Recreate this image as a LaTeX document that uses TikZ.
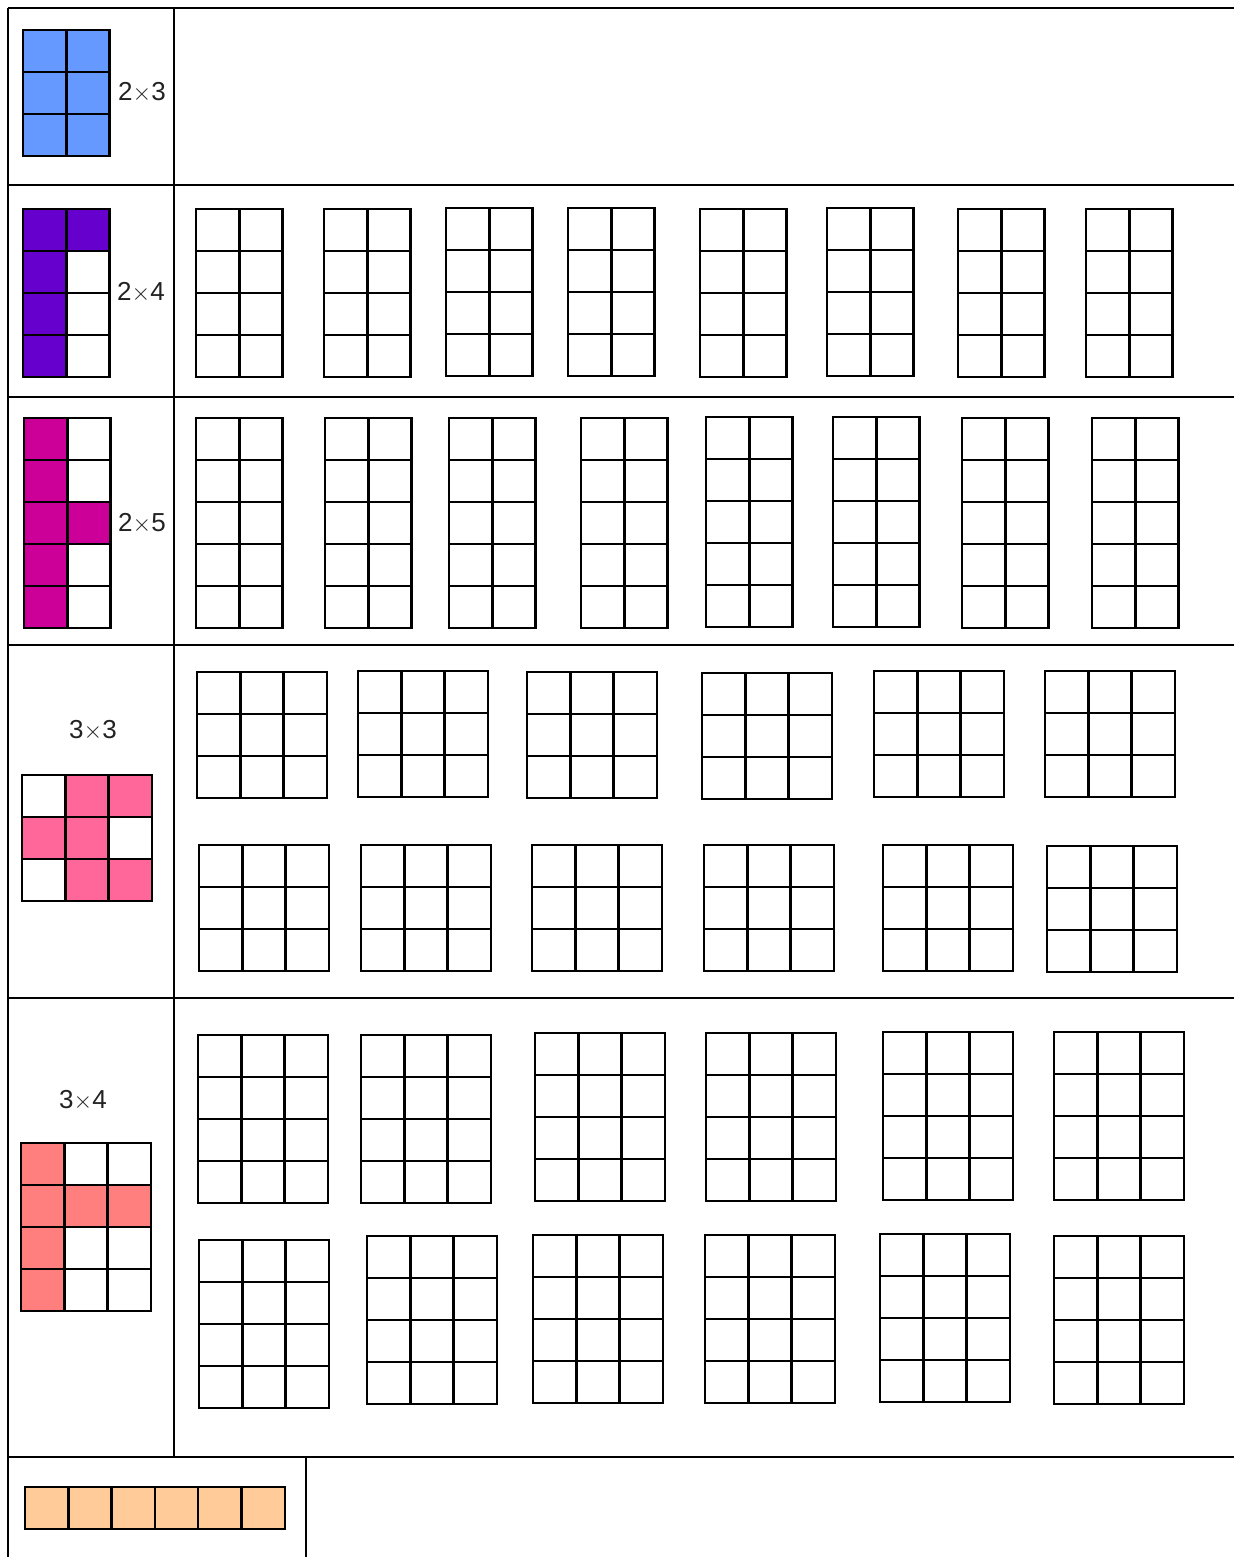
\documentclass[tikz,border=0pt]{standalone}
\usepackage{fontspec}
\setmainfont{Liberation Sans}
\definecolor{ink}{HTML}{222222}
\definecolor{tileblue}{HTML}{6699FF}
\definecolor{tilepurple}{HTML}{6600CC}
\definecolor{tilemagenta}{HTML}{CC0099}
\definecolor{tilepink}{HTML}{FF6699}
\definecolor{tilesalmon}{HTML}{FF7F7F}
\definecolor{tileorange}{HTML}{FFCC99}
\tikzset{
  rule/.style={draw=black, line width=0.8pt},
  cell/.style={draw=black, line width=1.25pt},
  dimlabel/.style={font=\fontsize{13}{15}\selectfont, text=ink, inner sep=0pt},
}
% left, top, columns, rows
\newcommand{\cellgrid}[4]{%
  \foreach \cx in {1,...,#3}
    \foreach \ry in {1,...,#4}
      \draw[cell] ({#1+(\cx-1)*43.3},{#2+(\ry-1)*42}) rectangle ++(43.3,42);
}
% left, top, colour, list of column/row
\newcommand{\celltint}[4]{%
  \foreach \cx/\ry in {#4}
    \fill[#3] ({#1+(\cx-1)*43.3},{#2+(\ry-1)*42}) rectangle ++(43.3,42);
}
\newcommand{\dims}[2]{#1$\times$#2}

\begin{document}
\begin{tikzpicture}[x=0.5pt, y=-0.5pt]
  \useasboundingbox (0,0) rectangle (1234,1557);

  % table rules
  \foreach \ty in {8,185,397,645,998,1457}
    \draw[rule] (8,\ty) -- (1234,\ty);
  \draw[rule] (8,8) -- (8,1557);
  \draw[rule] (174,8) -- (174,1457);
  \draw[rule] (306,1457) -- (306,1557);

  % coloured shapes
  \celltint{23}{30}{tileblue}{1/1,2/1,1/2,2/2,1/3,2/3}
  \cellgrid{23}{30}{2}{3}
  \node[dimlabel] (lab23) at (142,92) {\dims{2}{3}};

  \celltint{23}{209}{tilepurple}{1/1,2/1,1/2,1/3,1/4}
  \cellgrid{23}{209}{2}{4}
  \node[dimlabel] (lab24) at (141,292) {\dims{2}{4}};

  \celltint{24}{418}{tilemagenta}{1/1,1/2,1/3,2/3,1/4,1/5}
  \cellgrid{24}{418}{2}{5}
  \node[dimlabel] (lab25) at (142,523) {\dims{2}{5}};

  \node[dimlabel] (lab33) at (93,730) {\dims{3}{3}};
  \celltint{22}{775}{tilepink}{2/1,3/1,1/2,2/2,2/3,3/3}
  \cellgrid{22}{775}{3}{3}

  \node[dimlabel] (lab34) at (83,1100) {\dims{3}{4}};
  \celltint{21}{1143}{tilesalmon}{1/1,1/2,2/2,3/2,1/3,1/4}
  \cellgrid{21}{1143}{3}{4}

  \celltint{25}{1487}{tileorange}{1/1,2/1,3/1,4/1,5/1,6/1}
  \cellgrid{25}{1487}{6}{1}

  % blank grids, 2 x 4
  \foreach \gx/\gy in {196/209,324/209,446/208,568/208,700/209,827/208,958/209,1086/209}
    {\cellgrid{\gx}{\gy}{2}{4}}

  % blank grids, 2 x 5
  \foreach \gx/\gy in {196/418,325/418,449/418,581/418,706/417,833/417,962/418,1092/418}
    {\cellgrid{\gx}{\gy}{2}{5}}

  % blank grids, 3 x 3
  \foreach \gx/\gy in {197/672,358/671,527/672,702/673,874/671,1045/671,
                       199/845,361/845,532/845,704/845,883/845,1047/846}
    {\cellgrid{\gx}{\gy}{3}{3}}

  % blank grids, 3 x 4
  \foreach \gx/\gy in {198/1035,361/1035,535/1033,706/1033,883/1032,1054/1032,
                       199/1240,367/1236,533/1235,705/1235,880/1234,1054/1236}
    {\cellgrid{\gx}{\gy}{3}{4}}
\end{tikzpicture}
\end{document}
